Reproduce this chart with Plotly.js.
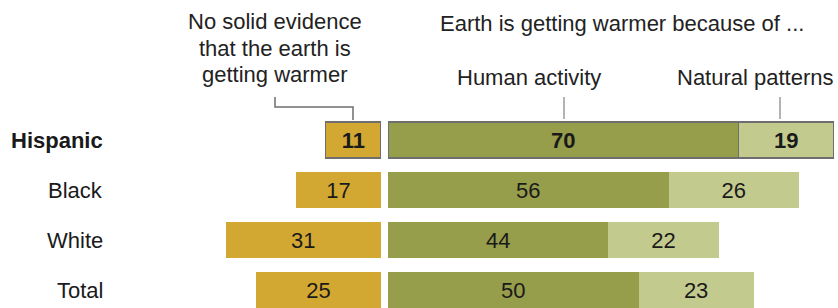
<!DOCTYPE html>
<html>
<head>
<meta charset="utf-8">
<script src="https://cdn.plot.ly/plotly-3.0.1.min.js"></script>
<style>html,body{margin:0;padding:0;background:#fff;}#chart{width:838px;height:308px;}</style>
</head>
<body>
<div id="chart"></div>
<script>
const categories = ["Hispanic", "Black", "White", "Total"];
const noEvidence = [11, 17, 31, 25];
const humanActivity = [70, 56, 44, 50];
const naturalPatterns = [19, 26, 22, 23];
const headerNoEvidence = ["No solid evidence", "that the earth is", "getting warmer"];
const headerWarmer = "Earth is getting warmer because of ...";
const headerHuman = "Human activity";
const headerNatural = "Natural patterns";

const W = 838, H = 308;
const FONT = "Liberation Sans, Arial, sans-serif";
const FS = 22;
const px = x => x / W;
const py = y => 1 - y / H;

const yIdx = categories.map((c, i) => i);
const isBold = categories.map((c, i) => i === 0);
const lbl = v => v.map((d, i) => isBold[i] ? "<b>" + d + "</b>" : String(d));
const lineW = isBold.map(b => b ? 1.2 : 0);

function bar(vals, color, xa) {
  return {
    type: "bar", orientation: "h", y: yIdx, x: vals, xaxis: xa, yaxis: "y",
    width: 0.72,
    marker: { color: color, line: { color: "#6e6e6e", width: lineW } },
    text: lbl(vals), textposition: "inside", insidetextanchor: "middle", textangle: 0,
    textfont: { family: FONT, size: FS, color: "#1a1a1a" },
    hoverinfo: "none", cliponaxis: false
  };
}

const data = [
  bar(noEvidence, "#D2A832", "x"),
  bar(humanActivity, "#969D4B", "x2"),
  bar(naturalPatterns, "#C3CA8E", "x2")
];

const unit = 5.01;
const hfont = { family: FONT, size: FS, color: "#222" };
const annotations = categories.map((c, i) => ({
  xref: "paper", yref: "y", x: px(105), y: i, xanchor: "right", yanchor: "middle",
  text: isBold[i] ? "<b>" + c + "</b>" : c, showarrow: false,
  font: { family: FONT, size: FS, color: "#1a1a1a" }
}));
const firstLineY = [22, 48.5, 75];
headerNoEvidence.forEach((t, i) => annotations.push({
  xref: "paper", yref: "paper", x: px(275), y: py(firstLineY[i]), xanchor: "center", yanchor: "middle",
  text: t, showarrow: false, font: hfont
}));
annotations.push(
  { xref: "paper", yref: "paper", x: px(622), y: py(23.5), xanchor: "center", yanchor: "middle",
    text: headerWarmer, showarrow: false, font: hfont },
  { xref: "paper", yref: "paper", x: px(529), y: py(77.5), xanchor: "center", yanchor: "middle",
    text: headerHuman, showarrow: false, font: hfont },
  { xref: "paper", yref: "paper", x: px(755), y: py(77.5), xanchor: "center", yanchor: "middle",
    text: headerNatural, showarrow: false, font: hfont }
);

const lineStyle = { color: "#9a9a9a", width: 1.5 };
const shapes = [
  { type: "path", xref: "paper", yref: "paper",
    path: `M ${px(275)} ${py(97)} L ${px(275)} ${py(107)} L ${px(353)} ${py(107)} L ${px(353)} ${py(120)}`,
    line: { color: "#6e6e6e", width: 1.5 } },
  { type: "line", xref: "paper", yref: "paper", x0: px(564), x1: px(564), y0: py(97), y1: py(119), line: lineStyle },
  { type: "line", xref: "paper", yref: "paper", x0: px(780), x1: px(780), y0: py(97), y1: py(119), line: lineStyle }
];

const layout = {
  width: W, height: H,
  margin: { l: 0, r: 0, t: 0, b: 0 },
  paper_bgcolor: "#fff", plot_bgcolor: "#fff",
  barmode: "stack", showlegend: false,
  xaxis: { domain: [0, px(381)], range: [381 / unit, 0], visible: false, fixedrange: true },
  xaxis2: { domain: [px(388), 1], range: [0, (W - 388) / unit], visible: false, fixedrange: true },
  yaxis: { range: [3.36, -2.8], visible: false, fixedrange: true },
  annotations: annotations,
  shapes: shapes,
  uniformtext: { mode: false }
};

Plotly.newPlot("chart", data, layout, { staticPlot: true, displayModeBar: false });
</script>
</body>
</html>
